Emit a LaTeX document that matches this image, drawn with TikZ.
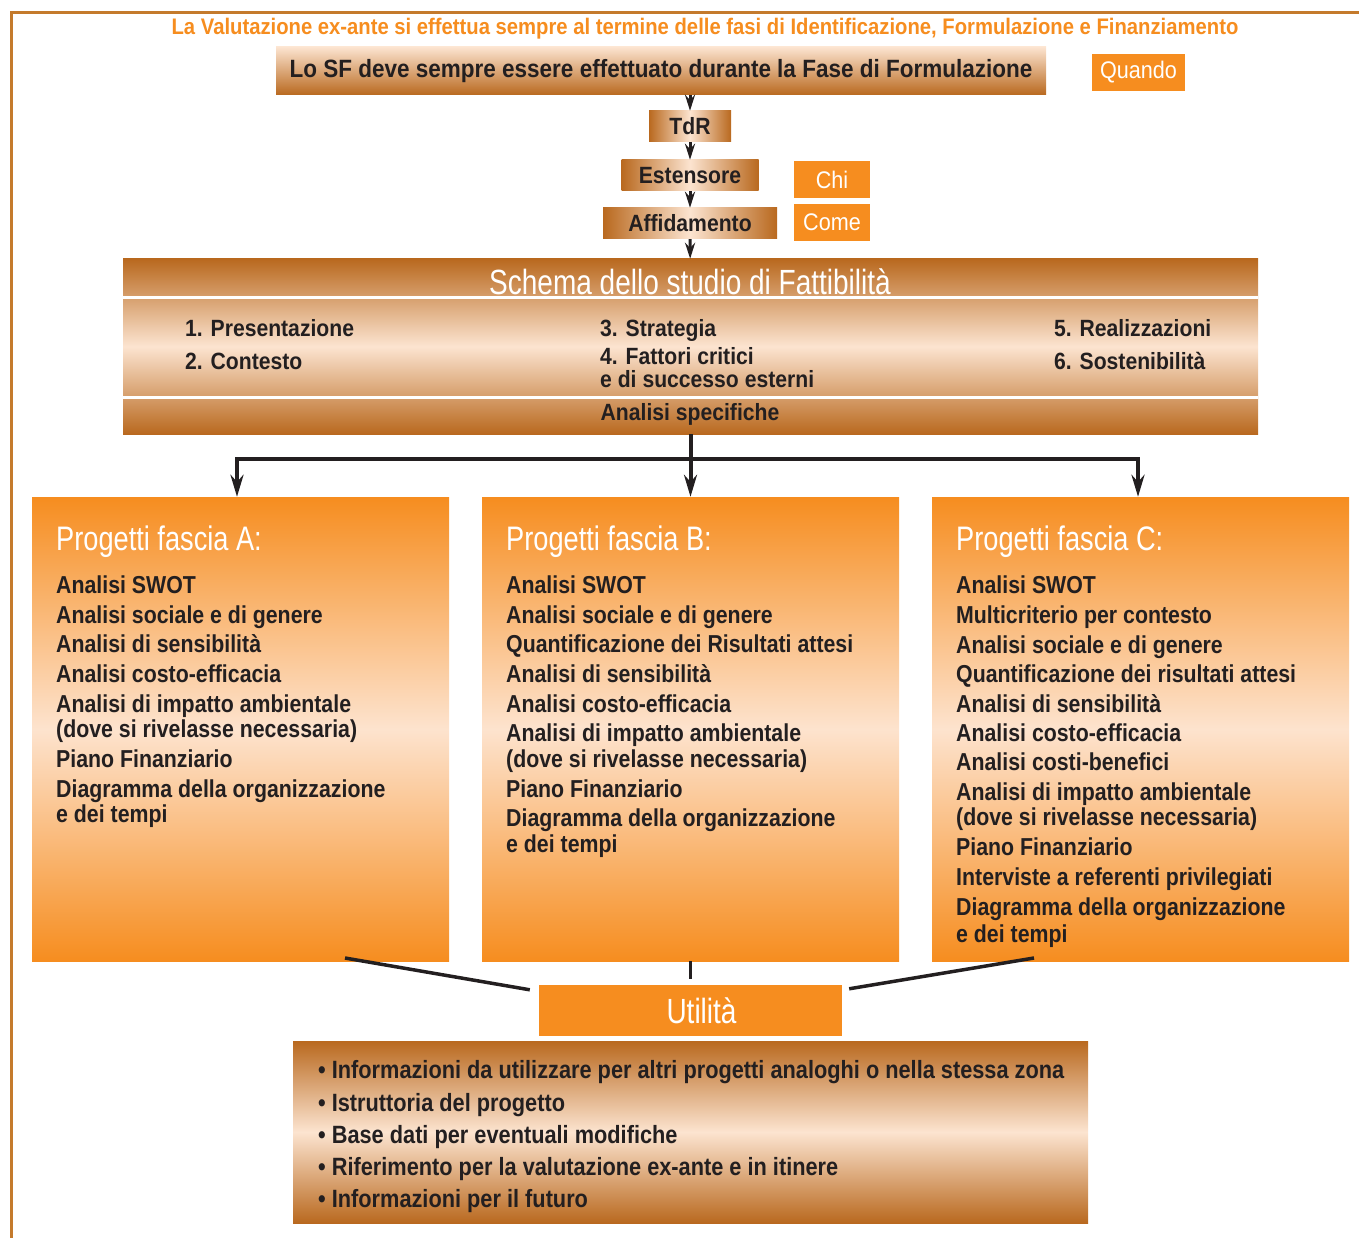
\documentclass[tikz,border=0pt]{standalone}
\usepackage{fontspec}
\setmainfont{Liberation Sans}[FakeStretch=0.87]
\newfontfamily\lightfont{Liberation Sans}[FakeStretch=0.8]
\newfontfamily\widefont{Liberation Sans}[FakeStretch=0.9]
\usetikzlibrary{arrows.meta}
\definecolor{bronzedark}{HTML}{B9691F}
\definecolor{bronzelight}{HTML}{FCE4D0}
\definecolor{arancio}{HTML}{F68D1F}
\definecolor{pesca}{HTML}{FDE3CE}
\definecolor{cornice}{HTML}{C47A2C}
\definecolor{testo}{HTML}{231F20}
\tikzset{% This is the style settings for boxes, texts and links
    bronzev/.style={inner sep=0pt, text=testo, top color=bronzelight, bottom color=bronzedark},
    bronze/.style={inner sep=0pt, top color=bronzedark, bottom color=bronzedark, middle color=bronzelight},
    bronzeh/.style={inner sep=0pt, text=testo, left color=bronzedark, right color=bronzedark, middle color=bronzelight,
        minimum height=31pt, font=\widefont\bfseries\fontsize{23.5}{28}\selectfont},
    tag/.style={fill=arancio, text=white, inner sep=0pt, minimum width=76pt, minimum height=37pt,
        font=\widefont\fontsize{24}{28}\selectfont},
    fascia/.style={inner sep=0pt, top color=arancio, bottom color=arancio, middle color=pesca,
        minimum width=417pt, minimum height=464pt},
    head/.style={anchor=base west, inner sep=0pt, text=white, font=\lightfont\fontsize{34}{40}\selectfont},
    item/.style={anchor=base west, inner sep=0pt, text=testo, font=\bfseries\fontsize{24.5}{29}\selectfont},
    voce/.style={anchor=base west, inner sep=0pt, text=testo, font=\widefont\bfseries\fontsize{23.5}{28}\selectfont},
    e/.style={-{Stealth[length=16pt, width=10pt]}, line width=3pt, testo},
    ee/.style={-{Stealth[length=22pt, width=13pt]}, line width=4pt, testo},
    l/.style={line width=3.5pt, testo}}

\begin{document}
\begin{tikzpicture}[x=1pt, y=-1pt]
    \useasboundingbox (0,0) rectangle (1359,1238);
    \draw[cornice, line width=3pt] (1359,13) -- (11,13) -- (11,1238);

    % top part
    \node[anchor=base, inner sep=0pt, text=arancio, font=\widefont\bfseries\fontsize{22.5}{26}\selectfont] (tit) at (705,35)
        {La Valutazione ex-ante si effettua sempre al termine delle fasi di Identificazione, Formulazione e Finanziamento};
    \node[bronzev, minimum width=770pt, minimum height=48pt, font=\widefont\bfseries\fontsize{25}{29}\selectfont] (sf) at (661,71)
        {Lo SF deve sempre essere effettuato durante la Fase di Formulazione};
    \node[bronzeh, minimum width=82pt] (tdr) at (690,126.5) {TdR};
    \node[bronzeh, minimum width=137pt] (est) at (690,175.5) {Estensore};
    \node[bronzeh, minimum width=174pt] (aff) at (690,223.5) {Affidamento};
    \node[tag, minimum width=93pt] (quando) at (1138.5,72.5) {Quando};
    \node[tag] (chi) at (832,179.5) {Chi};
    \node[tag] (come) at (832,222.5) {Come};

    % schema
    \node[bronze, minimum width=1135pt, minimum height=175pt] (schema) at (690.5,346.5) {};
    \draw[white, line width=3pt] ([yshift=-39pt]schema.north west) -- ([yshift=-39pt]schema.north east);
    \draw[white, line width=3pt] ([yshift=37pt]schema.south west) -- ([yshift=37pt]schema.south east);
    \node[anchor=base, inner sep=0pt, text=white, font=\lightfont\fontsize{35}{40}\selectfont] (stit) at (690,295)
        {Schema dello studio di Fattibilità};
    \node[voce] (s1) at (185,337) {1. Presentazione};
    \node[voce] (s2) at (185,369) {2. Contesto};
    \node[voce] (s3) at (600,337) {3. Strategia};
    \node[voce] (s4) at (600,364) {4. Fattori critici};
    \node[voce] (s4b) at (600,387) {e di successo esterni};
    \node[voce] (s5) at (1054,337) {5. Realizzazioni};
    \node[voce] (s6) at (1054,369) {6. Sostenibilità};
    \node[voce, anchor=base] (sa) at (690,420) {Analisi specifiche};

    \draw[e] (sf.south -| tdr) -- (tdr);
    \draw[e] (tdr) -- (est);
    \draw[e] (est) -- (aff);
    \draw[e] (aff) -- (schema);

    % fasce
    \node[fascia] (fa) at (240.5,729) {};
    \node[fascia] (fb) at (690.5,729) {};
    \node[fascia] (fc) at (1140.5,729) {};
    \coordinate (split) at (690,459);
    \draw[ee] (schema) -- (fb);
    \draw[ee] (split) -| ([xshift=-3.5pt]fa.north);
    \draw[ee] (split) -| ([xshift=-2.5pt]fc.north);

    \node[head] (ha) at (56,550) {Progetti fascia A:};
    \node[head] (hb) at (506,550) {Progetti fascia B:};
    \node[head] (hc) at (956,550) {Progetti fascia C:};
    \foreach \y/\t [count=\i] in {593/Analisi SWOT, 623/Analisi sociale e di genere, 652/Analisi di sensibilità,
        682/Analisi costo-efficacia, 712/Analisi di impatto ambientale, 737/(dove si rivelasse necessaria),
        767/Piano Finanziario, 797/Diagramma della organizzazione, 822/e dei tempi}
        \node[item] (a\i) at (56,\y) {\t};
    \foreach \y/\t [count=\i] in {593/Analisi SWOT, 623/Analisi sociale e di genere, 652/Quantificazione dei Risultati attesi,
        682/Analisi di sensibilità, 712/Analisi costo-efficacia, 741/Analisi di impatto ambientale,
        767/(dove si rivelasse necessaria), 797/Piano Finanziario, 826/Diagramma della organizzazione, 852/e dei tempi}
        \node[item] (b\i) at (506,\y) {\t};
    \foreach \y/\t [count=\i] in {593/Analisi SWOT, 623/Multicriterio per contesto, 653/Analisi sociale e di genere,
        682/Quantificazione dei risultati attesi, 712/Analisi di sensibilità, 741/Analisi costo-efficacia,
        770/Analisi costi-benefici, 800/Analisi di impatto ambientale, 825/(dove si rivelasse necessaria),
        855/Piano Finanziario, 885/Interviste a referenti privilegiati, 915/Diagramma della organizzazione,
        942/e dei tempi}
        \node[item] (c\i) at (956,\y) {\t};

    % utilita
    \node[fill=arancio, inner sep=0pt, minimum width=303pt, minimum height=51pt, text=white,
        font=\lightfont\fontsize{35}{40}\selectfont] (ut) at (690.5,1010.5) {\hspace*{22pt}Utilità};
    \coordinate (ja) at (345,958);
    \coordinate (jc) at (1034,958);
    \draw[l] (ja) -- ([xshift=-9pt, yshift=-5pt]ut.north west);
    \draw[l] (jc) -- ([xshift=7pt, yshift=-4pt]ut.north east);
    \draw[l, shorten >=6pt] (fb) -- (ut);

    \node[bronze, minimum width=795pt, minimum height=182pt] (info) at (690.5,1132) {};
    \foreach \y/\t [count=\i] in {1078/Informazioni da utilizzare per altri progetti analoghi o nella stessa zona,
        1111/Istruttoria del progetto, 1143/Base dati per eventuali modifiche,
        1175/Riferimento per la valutazione ex-ante e in itinere, 1207/Informazioni per il futuro}
        \node[item, font=\bfseries\fontsize{25}{29}\selectfont] (u\i) at (318,\y) {\textbullet\ \t};
\end{tikzpicture}
\end{document}
